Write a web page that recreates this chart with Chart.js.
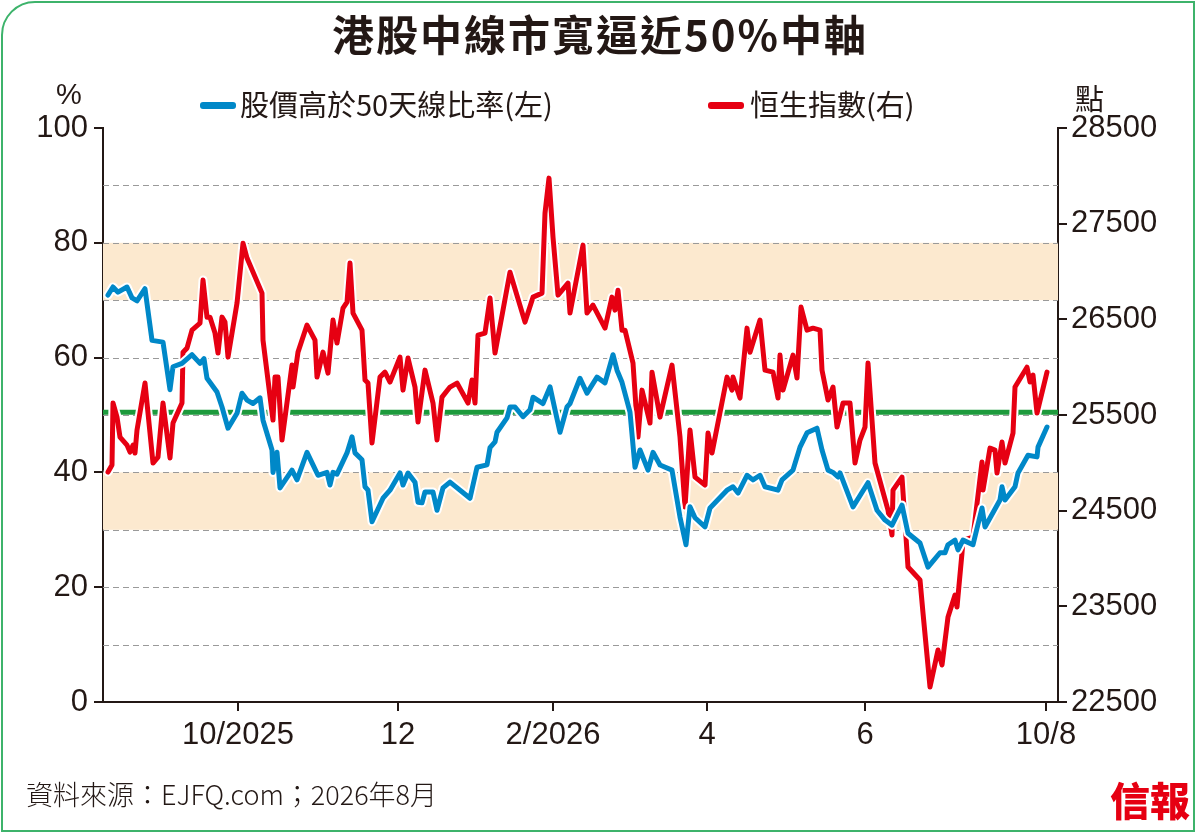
<!DOCTYPE html>
<html><head><meta charset="utf-8">
<script src="https://cdn.jsdelivr.net/npm/chart.js@4"></script>
<style>
html,body{margin:0;padding:0;background:#fff;}
#wrap{position:relative;width:1200px;height:836px;overflow:hidden;}
#frame{position:absolute;left:1px;top:1px;width:1194px;height:831px;border:2px solid #3db36b;border-radius:34px 0 0 0;box-sizing:border-box;}
canvas{position:absolute;left:0;top:0;}
.t{position:absolute;font-family:"Noto Sans CJK TC","Noto Sans CJK SC",sans-serif;color:#231815;white-space:nowrap;}
#title{left:0;width:1200px;top:2px;text-align:center;font-size:42px;font-weight:700;letter-spacing:2px;}
.leg{top:82px;font-size:29px;}
.sw{position:absolute;width:36px;height:7px;border-radius:3px;top:102px;}
#foot{left:26px;top:774px;font-size:27px;font-weight:300;}
#logo{left:1110px;top:770px;font-size:40px;font-weight:900;color:#e60012;font-family:"Noto Sans CJK TC",serif;}
</style></head>
<body><div id="wrap">
<canvas id="c" width="1200" height="836"></canvas>
<div id="frame"></div>
<div class="t" id="title">港股中線市寬逼近50%中軸</div>
<div class="sw" style="left:200px;background:#0088c8"></div>
<div class="t leg" style="left:240px">股價高於50天線比率(左)</div>
<div class="sw" style="left:708px;background:#e60012"></div>
<div class="t leg" style="left:750px">恒生指數(右)</div>
<div class="t" style="left:56px;top:78px;font-size:29px;font-family:'Liberation Sans',sans-serif">%</div>
<div class="t" style="left:1075px;top:76px;font-size:29px">點</div>
<div class="t" id="foot">資料來源：EJFQ.com；2026年8月</div>
<div class="t" id="logo">信報</div>
</div>
<script>
// x = position along the year (0 = mid Aug 2025, 955 = 10 Aug 2026)
const xTickPos = [135, 295, 450, 604, 762, 943];
const xTickLabels = ['10/2025', '12', '2/2026', '4', '6', '10/8'];

// [x, % of stocks above 50-day MA]
const breadth = [[5,70.9],[10,72.3],[15,71.4],[24,72.3],[29,70.4],[34,69.9],[42,72],[49,63],[60,62.7],[67,54.4],[70,58.4],[79,59],[89,60.5],[97,59],[101,59.8],[104,56.4],[114,54],[119,51.4],[125,47.7],[134,50.3],[139,53.8],[144,52.6],[150,52],[157,53],[160,49.1],[169,43.9],[170,40],[174,43.5],[177,37.3],[189,40.4],[194,38.7],[204,43.5],[210,41.3],[215,39.5],[224,40],[227,37.8],[230,40],[234,39.7],[244,43.4],[249,46.2],[252,43.4],[259,42.2],[262,37.5],[265,36.9],[269,31.4],[280,35.5],[287,36.9],[297,39.9],[300,37.8],[305,39.9],[312,38.3],[315,34.8],[319,34.7],[322,36.6],[330,36.6],[334,33.4],[340,37.3],[347,38.3],[367,35.5],[374,40.9],[384,41.3],[387,44.3],[392,45.3],[394,47],[404,49.5],[407,51.4],[412,51.4],[420,49.7],[427,50.9],[430,53.1],[440,52],[447,54.9],[452,50.9],[457,47],[464,51.4],[467,52],[477,56.4],[484,53.8],[494,56.6],[502,55.6],[510,60.5],[514,57.8],[519,55.7],[527,50.5],[532,40.9],[537,43.9],[545,40.4],[550,43.5],[557,41.3],[569,40.4],[577,32.2],[583,27.4],[587,34],[592,32.1],[602,30.5],[607,33.8],[624,36.9],[630,37.5],[635,36.4],[644,39.5],[650,38.7],[657,39.5],[662,37.5],[675,36.9],[679,38.7],[690,40.4],[697,44.4],[704,46.9],[714,47.7],[719,43.9],[725,40.4],[730,40],[735,39.2],[737,39.9],[750,34],[765,38.2],[774,33.4],[782,31.7],[789,30.8],[799,34.3],[805,29.4],[817,27.7],[825,23.5],[837,26],[842,26],[845,27.4],[852,28.2],[855,26.5],[860,28.2],[870,27.4],[879,33.8],[882,30.5],[897,35.2],[899,37.5],[902,35.2],[912,37.5],[915,39.9],[925,43],[934,42.7],[935,44.4],[944,47.9]];

// [x, Hang Seng Index]
const hsi = [[5,24904],[9,24977],[10,25625],[14,25478],[17,25269],[24,25185],[27,25112],[30,25185],[32,25102],[34,25342],[42,25834],[50,24998],[55,25060],[60,25625],[67,25050],[70,25416],[79,25625],[80,26157],[84,26199],[89,26387],[97,26460],[100,26910],[104,26523],[107,26523],[112,26356],[115,26147],[119,26523],[122,26471],[125,26105],[134,26669],[140,27296],[144,27140],[159,26774],[160,26283],[170,25447],[172,25896],[175,25896],[179,25238],[189,26022],[190,25792],[195,26157],[204,26440],[212,26283],[214,25896],[220,26157],[225,25938],[230,26492],[234,26252],[240,26617],[244,26680],[247,27088],[250,26565],[259,26387],[262,25865],[265,25834],[269,25207],[277,25896],[282,25948],[287,25844],[297,26105],[300,25760],[305,26095],[312,25792],[315,25426],[322,25969],[330,25625],[334,25238],[339,25687],[347,25792],[354,25834],[365,25625],[369,25865],[372,25625],[375,26335],[382,26356],[387,26722],[392,26147],[400,26596],[407,26993],[422,26471],[430,26732],[439,26774],[442,27610],[446,27976],[450,27359],[455,26753],[465,26878],[467,26565],[480,27276],[484,26565],[490,26649],[502,26408],[509,26732],[512,26596],[515,26805],[519,26387],[522,26387],[530,26043],[535,25269],[539,25760],[547,25416],[549,25948],[557,25478],[569,26022],[577,25269],[582,24538],[587,25342],[592,24851],[602,24768],[605,25311],[609,25102],[624,25896],[629,25760],[630,25896],[637,25677],[644,26408],[647,26157],[657,26492],[662,25969],[670,25948],[675,25677],[677,26126],[680,25760],[690,26126],[694,25886],[698,26628],[704,26387],[710,26408],[717,26387],[719,25969],[725,25656],[730,25792],[734,25374],[740,25625],[747,25625],[752,24998],[757,25238],[762,25374],[765,26043],[772,24998],[785,24506],[789,24245],[790,24715],[799,24851],[805,23911],[817,23775],[820,23430],[827,22657],[835,23043],[839,22887],[845,23388],[852,23618],[854,23493],[859,24057],[860,24193],[870,24224],[879,25008],[880,24715],[887,25154],[892,25133],[894,24893],[899,25217],[902,24998],[910,25311],[912,25792],[924,26000],[927,25844],[930,25917],[934,25520],[944,25948]];

const midLine = 50.5;
const bands = [[30, 40], [70, 80]];

// fresh point objects for every dataset
const pts = rows => rows.map(([x, y]) => ({ x: x, y: y }));

const axisFont = { family: "'Liberation Sans',sans-serif", size: 31 };
const ink = '#231815';

const backdrop = {
  id: 'backdrop',
  beforeDatasetsDraw(chart) {
    const { ctx, chartArea: a, scales: { y } } = chart;
    ctx.save();
    ctx.fillStyle = '#fce9cf';
    bands.forEach(([lo, hi]) => {
      const t = y.getPixelForValue(hi), b = y.getPixelForValue(lo);
      ctx.fillRect(a.left, t, a.right - a.left, b - t);
    });
    ctx.setLineDash([6, 4]);
    ctx.strokeStyle = '#9a9a9a';
    ctx.lineWidth = 1.2;
    for (let v = 10; v < 100; v += 10) {
      const py = Math.round(y.getPixelForValue(v)) + 0.5;
      ctx.beginPath(); ctx.moveTo(a.left, py); ctx.lineTo(a.right, py); ctx.stroke();
    }
    ctx.setLineDash([]);
    ctx.strokeStyle = '#1d9a3c';
    ctx.lineWidth = 5;
    const gy = y.getPixelForValue(midLine);
    ctx.beginPath(); ctx.moveTo(a.left, gy); ctx.lineTo(a.right, gy); ctx.stroke();
    ctx.restore();
  }
};

const line = (rows, color, width, axis) => ({
  data: pts(rows), borderColor: color, borderWidth: width, pointRadius: 0,
  tension: 0, fill: false, yAxisID: axis, borderJoinStyle: 'round', borderCapStyle: 'round'
});

// Chart.js paints the first dataset last, so the top layer comes first
new Chart(document.getElementById('c'), {
  type: 'line',
  data: {
    datasets: [
      line(breadth, '#0088c8', 5, 'y'),
      line(breadth, '#fff', 9, 'y'),
      line(hsi, '#e60012', 5, 'y2'),
      line(hsi, '#fff', 9, 'y2')
    ]
  },
  options: {
    responsive: false, animation: false, events: [],
    parsing: false, normalized: true,
    layout: { padding: { top: 128, left: 0, right: 0, bottom: 0 } },
    plugins: { legend: { display: false }, tooltip: { enabled: false } },
    scales: {
      x: {
        type: 'linear', min: 0, max: 955,
        afterBuildTicks: s => { s.ticks = xTickPos.map(v => ({ value: v })); },
        afterFit: s => { s.height = 134; },
        ticks: { color: ink, font: axisFont, padding: 6, maxRotation: 0,
          callback: (v) => xTickLabels[xTickPos.indexOf(v)] },
        grid: { display: true, drawOnChartArea: false, color: ink, tickLength: 9, lineWidth: 2 },
        border: { color: ink, width: 2 }
      },
      y: {
        position: 'left', min: 0, max: 100,
        afterFit: s => { s.width = 103; },
        ticks: { stepSize: 20, color: ink, font: axisFont, padding: 6 },
        grid: { drawOnChartArea: false, color: ink, tickLength: 9, lineWidth: 2 },
        border: { color: ink, width: 2 }
      },
      y2: {
        position: 'right', min: 22500, max: 28500,
        afterBuildTicks: s => { s.ticks = [22500, 23500, 24500, 25500, 26500, 27500, 28500].map(v => ({ value: v })); },
        afterFit: s => { s.width = 142; },
        ticks: { color: ink, font: axisFont, padding: 4, callback: v => String(v) },
        grid: { drawOnChartArea: false, color: ink, tickLength: 9, lineWidth: 2 },
        border: { color: ink, width: 2 }
      }
    }
  },
  plugins: [backdrop]
});
</script>
</body></html>
